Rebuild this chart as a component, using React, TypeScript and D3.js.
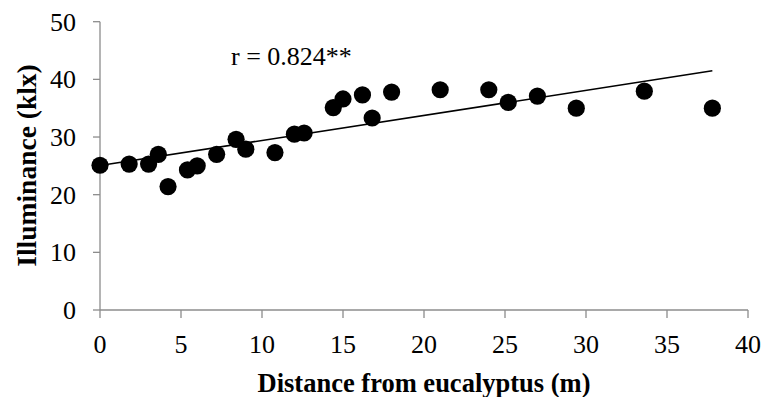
import React from "react";
import * as d3 from "d3";

const distance = [0, 1.8, 3.0, 3.6, 4.2, 5.4, 6.0, 7.2, 8.4, 9.0, 10.8, 12.0, 12.6, 14.4, 15.0, 16.2, 16.8, 18.0, 21.0, 24.0, 25.2, 27.0, 29.4, 33.6, 37.8];
const illuminance = [25.1, 25.3, 25.3, 27.0, 21.4, 24.3, 25.0, 27.0, 29.6, 27.9, 27.3, 30.5, 30.7, 35.1, 36.6, 37.3, 33.3, 37.8, 38.2, 38.2, 36.0, 37.1, 35.0, 37.95, 35.0];
const xTicks = [0, 5, 10, 15, 20, 25, 30, 35, 40];
const yTicks = [0, 10, 20, 30, 40, 50];
const annotation = "r = 0.824**";
const xTitle = "Distance from eucalyptus (m)";
const yTitle = "Illuminance (klx)";

export default function App() {
  const W = 764, H = 397;
  const left = 100, right = 748, top = 21.7, bottom = 310;
  const x = d3.scaleLinear().domain([0, 40]).range([left, right]);
  const y = d3.scaleLinear().domain([0, 50]).range([bottom, top]);
  const pts = distance.map((d, i) => [d, illuminance[i]] as [number, number]);
  const mx = d3.mean(distance)!;
  const my = d3.mean(illuminance)!;
  let sxy = 0, sxx = 0;
  pts.forEach(([a, b]) => { sxy += (a - mx) * (b - my); sxx += (a - mx) * (a - mx); });
  const slope = sxy / sxx;
  const icpt = my - slope * mx;
  const x0 = d3.min(distance)!, x1 = d3.max(distance)!;
  const axisColor = "#8c8c8c";
  const font = "'Liberation Serif', 'Times New Roman', serif";
  return (
    <svg width={W} height={H} style={{ position: "absolute", left: 0, top: 0, background: "#fff" }}>
      <rect width={W} height={H} fill="#fff" />
      {/* y axis */}
      <line x1={left} x2={left} y1={top} y2={bottom} stroke={axisColor} strokeWidth={1.3} />
      {yTicks.map((t) => (
        <g key={"y" + t}>
          <line x1={left - 7} x2={left} y1={y(t)} y2={y(t)} stroke={axisColor} strokeWidth={1.3} />
          <text x={76} y={y(t)} dy="0.34em" textAnchor="end" fontFamily={font} fontSize={26} fill="#000">{t}</text>
        </g>
      ))}
      {/* x axis */}
      <line x1={left} x2={right} y1={bottom} y2={bottom} stroke={axisColor} strokeWidth={1.3} />
      {xTicks.map((t) => (
        <g key={"x" + t}>
          <line x1={x(t)} x2={x(t)} y1={bottom} y2={bottom + 8} stroke={axisColor} strokeWidth={1.3} />
          <text x={x(t)} y={344} dy="0.34em" textAnchor="middle" fontFamily={font} fontSize={26} fill="#000">{t}</text>
        </g>
      ))}
      {/* trend line */}
      <line x1={x(x0)} y1={y(icpt + slope * x0)} x2={x(x1)} y2={y(icpt + slope * x1)} stroke="#000" strokeWidth={1.5} />
      {/* points */}
      {pts.map(([a, b], i) => (
        <circle key={i} cx={x(a)} cy={y(b)} r={8.6} fill="#000" />
      ))}
      <text x={231} y={65} fontFamily={font} fontSize={26} fill="#000">{annotation}</text>
      <text x={424} y={392} textAnchor="middle" fontFamily={font} fontSize={26.5} fontWeight="bold" fill="#000">{xTitle}</text>
      <text transform={`translate(26,165.5) rotate(-90)`} dy="0.35em" textAnchor="middle" fontFamily={font} fontSize={27.5} fontWeight="bold" fill="#000">{yTitle}</text>
    </svg>
  );
}
